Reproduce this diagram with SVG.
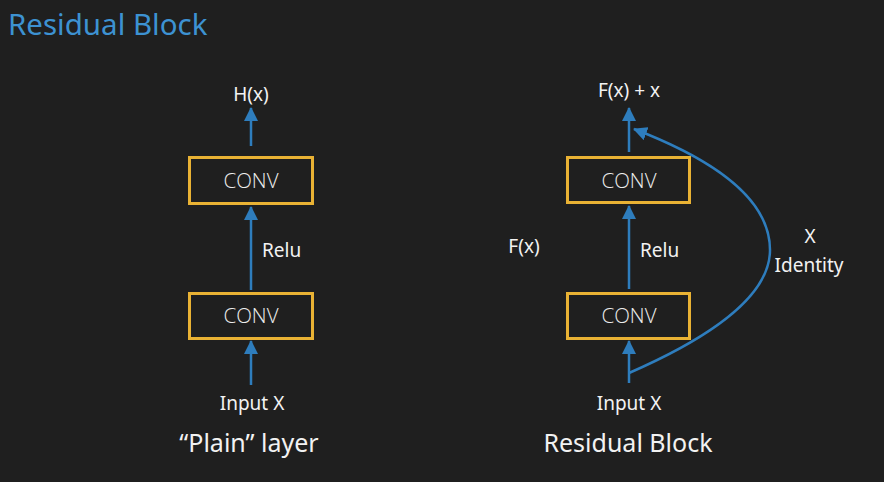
<svg xmlns="http://www.w3.org/2000/svg" width="884" height="482" viewBox="0 0 884 482">
  <defs>
    <marker id="head" markerUnits="userSpaceOnUse" markerWidth="14" markerHeight="14" viewBox="0 0 14 14" refX="13" refY="7" orient="auto">
      <path d="M0,0 L14,7 L0,14 Z" fill="#2e7dbd"/>
    </marker>
    <style>
      .bg { fill: #1f1f1f; }
      .title { font-family: "Noto Sans", "Open Sans", sans-serif; font-size: 29.5px; fill: #3d92d2; }
      .lbl { font-family: "Noto Sans", "Open Sans", sans-serif; font-size: 19px; fill: #f2f2f2; }
      .cap { font-family: "Noto Sans", "Open Sans", sans-serif; font-size: 25px; fill: #f2f2f2; text-anchor: middle; }
      .box rect { fill: none; stroke: #e9b234; stroke-width: 3; }
      .box text { font-family: "Open Sans", "Noto Sans", sans-serif; font-weight: 300; font-size: 20.5px; fill: #ececec; text-anchor: middle; }
      .link { fill: none; stroke: #2e7dbd; stroke-width: 2.5; marker-end: url(#head); }
    </style>
  </defs>
  <rect class="bg" x="0" y="0" width="884" height="482"/>
  <text class="title" x="8" y="35">Residual Block</text>

  <!-- plain layer -->
  <g id="plain-out"><text class="lbl" x="251" y="101" text-anchor="middle">H(x)</text></g>
  <g id="plain-conv2" class="box"><rect x="189.5" y="157.5" width="123" height="46"/><text x="251" y="188">CONV</text></g>
  <g id="plain-conv1" class="box"><rect x="189.5" y="293.5" width="123" height="45"/><text x="251" y="323">CONV</text></g>
  <g id="plain-in"><text class="lbl" x="252" y="410" text-anchor="middle">Input X</text></g>
  <g id="plain-relu"><text class="lbl" x="262" y="257">Relu</text></g>
  <text class="cap" x="249" y="452">“Plain” layer</text>

  <!-- residual block -->
  <g id="res-out"><text class="lbl" x="629" y="97" text-anchor="middle">F(x) + x</text></g>
  <g id="res-conv2" class="box"><rect x="567.5" y="157.5" width="122" height="45"/><text x="629" y="188">CONV</text></g>
  <g id="res-conv1" class="box"><rect x="567.5" y="293.5" width="122" height="45"/><text x="629" y="323">CONV</text></g>
  <g id="res-in"><text class="lbl" x="629" y="410" text-anchor="middle">Input X</text></g>
  <g id="res-relu"><text class="lbl" x="640" y="257">Relu</text></g>
  <g id="res-fx"><text class="lbl" x="524" y="253" text-anchor="middle">F(x)</text></g>
  <g id="res-identity">
    <text class="lbl" x="810" y="243" text-anchor="middle">X</text>
    <text class="lbl" x="809" y="272" text-anchor="middle">Identity</text>
  </g>
  <text class="cap" x="628" y="452">Residual Block</text>

  <g id="connectors">
    <line class="link" x1="251" y1="146" x2="251" y2="108"/>
    <line class="link" x1="251" y1="290" x2="251" y2="207"/>
    <line class="link" x1="251" y1="385" x2="251" y2="341"/>
    <line class="link" x1="629" y1="152" x2="629" y2="108"/>
    <line class="link" x1="629" y1="289" x2="629" y2="206"/>
    <line class="link" x1="629" y1="383" x2="629" y2="341"/>
    <path class="link" d="M629,373 C700,342 770,300 770,250 C770,200 715,160 634,129"/>
  </g>
</svg>
